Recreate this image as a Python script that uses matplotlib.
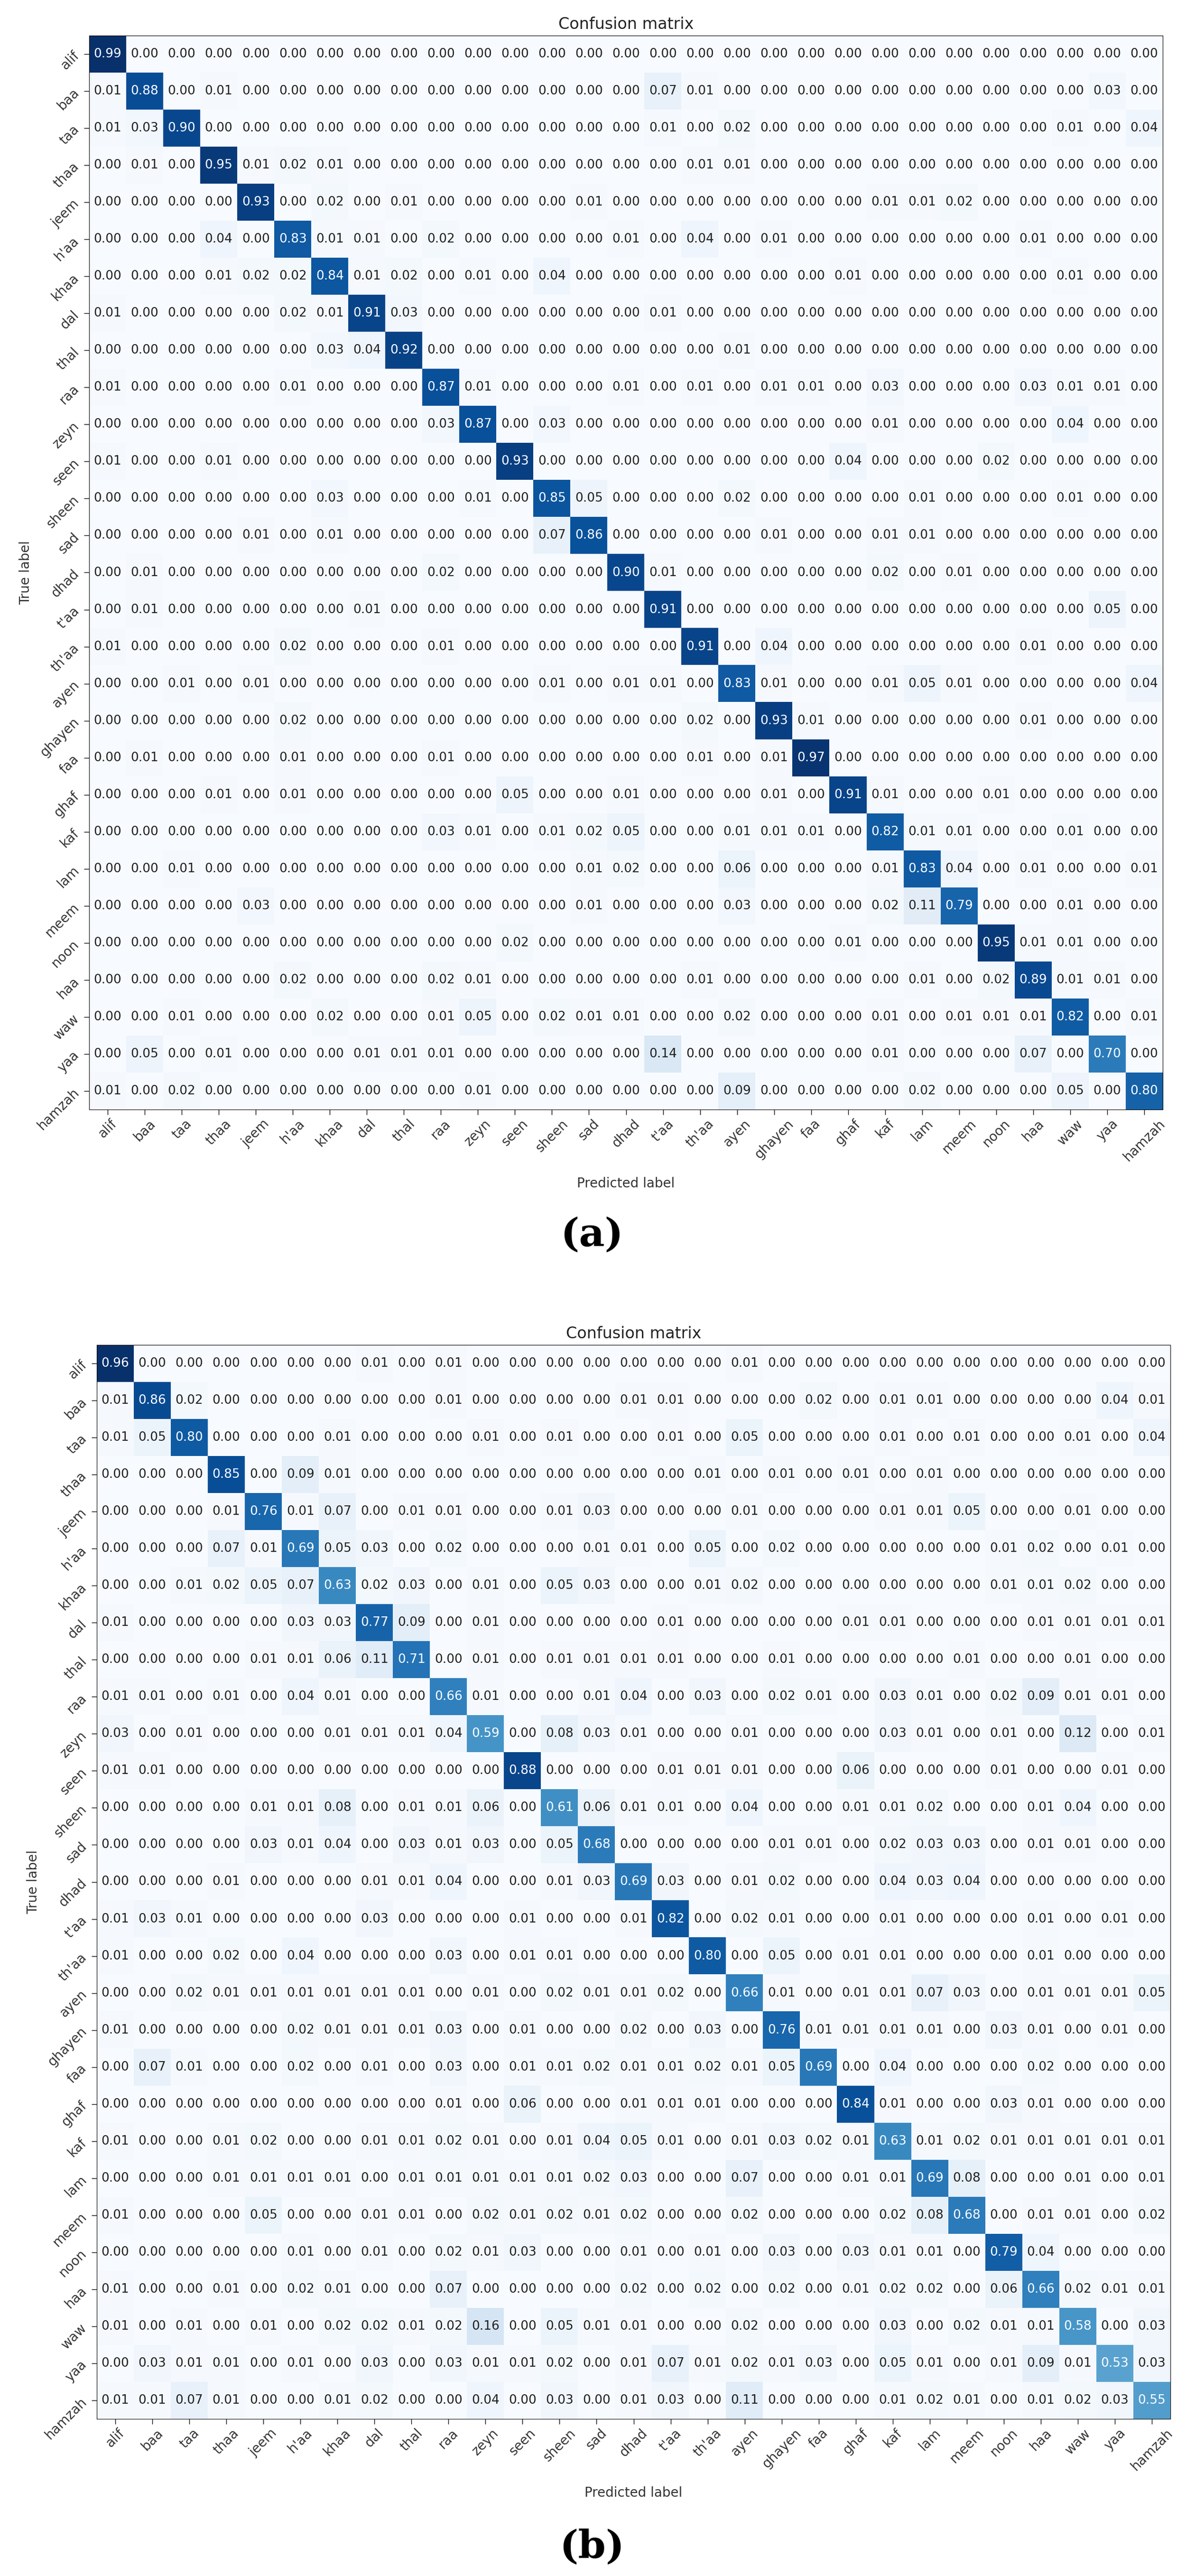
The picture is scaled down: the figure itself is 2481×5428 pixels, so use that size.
import numpy as np
import matplotlib
matplotlib.use("Agg")
import matplotlib.pyplot as plt

labels = ["alif","baa","taa","thaa","jeem","h'aa","khaa","dal","thal","raa","zeyn","seen","sheen","sad",
          "dhad","t'aa","th'aa","ayen","ghayen","faa","ghaf","kaf","lam","meem","noon","haa","waw","yaa","hamzah"]

# Matrix (a): rows as left part (cols 0-13) + right part (cols 14-28)
cm_a = [
 [0.99,0,0,0,0,0,0,0,0,0,0,0,0,0] + [0,0,0,0,0,0,0,0,0,0,0,0,0,0,0],
 [0.01,0.88,0,0.01,0,0,0,0,0,0,0,0,0,0] + [0,0.07,0.01,0,0,0,0,0,0,0,0,0,0,0.03,0],
 [0.01,0.03,0.90,0,0,0,0,0,0,0,0,0,0,0] + [0,0.01,0,0.02,0,0,0,0,0,0,0,0,0.01,0,0.04],
 [0,0.01,0,0.95,0.01,0.02,0.01,0,0,0,0,0,0,0] + [0,0,0.01,0.01,0,0,0,0,0,0,0,0,0,0,0],
 [0,0,0,0,0.93,0,0.02,0,0.01,0,0,0,0,0.01] + [0,0,0,0,0,0,0,0.01,0.01,0.02,0,0,0,0,0],
 [0,0,0,0.04,0,0.83,0.01,0.01,0,0.02,0,0,0,0] + [0.01,0,0.04,0,0.01,0,0,0,0,0,0,0.01,0,0,0],
 [0,0,0,0.01,0.02,0.02,0.84,0.01,0.02,0,0.01,0,0.04,0] + [0,0,0,0,0,0,0.01,0,0,0,0,0,0.01,0,0],
 [0.01,0,0,0,0,0.02,0.01,0.91,0.03,0,0,0,0,0] + [0,0.01,0,0,0,0,0,0,0,0,0,0,0,0,0],
 [0,0,0,0,0,0,0.03,0.04,0.92,0,0,0,0,0] + [0,0,0,0.01,0,0,0,0,0,0,0,0,0,0,0],
 [0.01,0,0,0,0,0.01,0,0,0,0.87,0.01,0,0,0] + [0.01,0,0.01,0,0.01,0.01,0,0.03,0,0,0,0.03,0.01,0.01,0],
 [0,0,0,0,0,0,0,0,0,0.03,0.87,0,0.03,0] + [0,0,0,0,0,0,0,0.01,0,0,0,0,0.04,0,0],
 [0.01,0,0,0.01,0,0,0,0,0,0,0,0.93,0,0] + [0,0,0,0,0,0,0.04,0,0,0,0.02,0,0,0,0],
 [0,0,0,0,0,0,0.03,0,0,0,0.01,0,0.85,0.05] + [0,0,0,0.02,0,0,0,0,0.01,0,0,0,0.01,0,0],
 [0,0,0,0,0.01,0,0.01,0,0,0,0,0,0.07,0.86] + [0,0,0,0,0.01,0,0,0.01,0.01,0,0,0,0,0,0],
 [0,0.01,0,0,0,0,0,0,0,0.02,0,0,0,0] + [0.90,0.01,0,0,0,0,0,0.02,0,0.01,0,0,0,0,0],
 [0,0.01,0,0,0,0,0,0.01,0,0,0,0,0,0] + [0,0.91,0,0,0,0,0,0,0,0,0,0,0,0.05,0],
 [0.01,0,0,0,0,0.02,0,0,0,0.01,0,0,0,0] + [0,0,0.91,0,0.04,0,0,0,0,0,0,0.01,0,0,0],
 [0,0,0.01,0,0.01,0,0,0,0,0,0,0,0.01,0] + [0.01,0.01,0,0.83,0.01,0,0,0.01,0.05,0.01,0,0,0,0,0.04],
 [0,0,0,0,0,0.02,0,0,0,0,0,0,0,0] + [0,0,0.02,0,0.93,0.01,0,0,0,0,0,0.01,0,0,0],
 [0,0.01,0,0,0,0.01,0,0,0,0.01,0,0,0,0] + [0,0,0.01,0,0.01,0.97,0,0,0,0,0,0,0,0,0],
 [0,0,0,0.01,0,0.01,0,0,0,0,0,0.05,0,0] + [0.01,0,0,0,0.01,0,0.91,0.01,0,0,0.01,0,0,0,0],
 [0,0,0,0,0,0,0,0,0,0.03,0.01,0,0.01,0.02] + [0.05,0,0,0.01,0.01,0.01,0,0.82,0.01,0.01,0,0,0.01,0,0],
 [0,0,0.01,0,0,0,0,0,0,0,0,0,0,0.01] + [0.02,0,0,0.06,0,0,0,0.01,0.83,0.04,0,0.01,0,0,0.01],
 [0,0,0,0,0.03,0,0,0,0,0,0,0,0,0.01] + [0,0,0,0.03,0,0,0,0.02,0.11,0.79,0,0,0.01,0,0],
 [0,0,0,0,0,0,0,0,0,0,0,0.02,0,0] + [0,0,0,0,0,0,0.01,0,0,0,0.95,0.01,0.01,0,0],
 [0,0,0,0,0,0.02,0,0,0,0.02,0.01,0,0,0] + [0,0,0.01,0,0,0,0,0,0.01,0,0.02,0.89,0.01,0.01,0],
 [0,0,0.01,0,0,0,0.02,0,0,0.01,0.05,0,0.02,0.01] + [0.01,0,0,0.02,0,0,0,0.01,0,0.01,0.01,0.01,0.82,0,0.01],
 [0,0.05,0,0.01,0,0,0,0.01,0.01,0.01,0,0,0,0] + [0,0.14,0,0,0,0,0,0.01,0,0,0,0.07,0,0.70,0],
 [0.01,0,0.02,0,0,0,0,0,0,0,0.01,0,0,0] + [0,0,0,0.09,0,0,0,0,0.02,0,0,0,0.05,0,0.80],
]

cm_b = [
 [0.96,0,0,0,0,0,0,0.01,0,0.01,0,0,0,0] + [0,0,0,0.01,0,0,0,0,0,0,0,0,0,0,0],
 [0.01,0.86,0.02,0,0,0,0,0,0,0.01,0,0,0,0] + [0.01,0.01,0,0,0,0.02,0,0.01,0.01,0,0,0,0,0.04,0.01],
 [0.01,0.05,0.80,0,0,0,0.01,0,0,0,0.01,0,0.01,0] + [0,0.01,0,0.05,0,0,0,0.01,0,0.01,0,0,0.01,0,0.04],
 [0,0,0,0.85,0,0.09,0.01,0,0,0,0,0,0,0] + [0,0,0.01,0,0.01,0,0.01,0,0.01,0,0,0,0,0,0],
 [0,0,0,0.01,0.76,0.01,0.07,0,0.01,0.01,0,0,0.01,0.03] + [0,0,0,0.01,0,0,0,0.01,0.01,0.05,0,0,0.01,0,0],
 [0,0,0,0.07,0.01,0.69,0.05,0.03,0,0.02,0,0,0,0.01] + [0.01,0,0.05,0,0.02,0,0,0,0,0,0.01,0.02,0,0.01,0],
 [0,0,0.01,0.02,0.05,0.07,0.63,0.02,0.03,0,0.01,0,0.05,0.03] + [0,0,0.01,0.02,0,0,0,0,0,0,0.01,0.01,0.02,0,0],
 [0.01,0,0,0,0,0.03,0.03,0.77,0.09,0,0.01,0,0,0] + [0,0.01,0,0,0,0,0.01,0.01,0,0,0,0.01,0.01,0.01,0.01],
 [0,0,0,0,0.01,0.01,0.06,0.11,0.71,0,0.01,0,0.01,0.01] + [0.01,0.01,0,0,0.01,0,0,0,0,0.01,0,0,0.01,0,0],
 [0.01,0.01,0,0.01,0,0.04,0.01,0,0,0.66,0.01,0,0,0.01] + [0.04,0,0.03,0,0.02,0.01,0,0.03,0.01,0,0.02,0.09,0.01,0.01,0],
 [0.03,0,0.01,0,0,0,0.01,0.01,0.01,0.04,0.59,0,0.08,0.03] + [0.01,0,0,0.01,0,0,0,0.03,0.01,0,0.01,0,0.12,0,0.01],
 [0.01,0.01,0,0,0,0,0,0,0,0,0,0.88,0,0] + [0,0.01,0.01,0.01,0,0,0.06,0,0,0,0.01,0,0,0.01,0],
 [0,0,0,0,0.01,0.01,0.08,0,0.01,0.01,0.06,0,0.61,0.06] + [0.01,0.01,0,0.04,0,0,0.01,0.01,0.02,0,0,0.01,0.04,0,0],
 [0,0,0,0,0.03,0.01,0.04,0,0.03,0.01,0.03,0,0.05,0.68] + [0,0,0,0,0.01,0.01,0,0.02,0.03,0.03,0,0.01,0.01,0,0],
 [0,0,0,0.01,0,0,0,0.01,0.01,0.04,0,0,0.01,0.03] + [0.69,0.03,0,0.01,0.02,0,0,0.04,0.03,0.04,0,0,0,0,0],
 [0.01,0.03,0.01,0,0,0,0,0.03,0,0,0,0.01,0,0] + [0.01,0.82,0,0.02,0.01,0,0,0.01,0,0,0,0.01,0,0.01,0],
 [0.01,0,0,0.02,0,0.04,0,0,0,0.03,0,0.01,0.01,0] + [0,0,0.80,0,0.05,0,0.01,0.01,0,0,0,0.01,0,0,0],
 [0,0,0.02,0.01,0.01,0.01,0.01,0.01,0.01,0,0.01,0,0.02,0.01] + [0.01,0.02,0,0.66,0.01,0,0.01,0.01,0.07,0.03,0,0.01,0.01,0.01,0.05],
 [0.01,0,0,0,0,0.02,0.01,0.01,0.01,0.03,0,0.01,0,0] + [0.02,0,0.03,0,0.76,0.01,0.01,0.01,0.01,0,0.03,0.01,0,0.01,0],
 [0,0.07,0.01,0,0,0.02,0,0.01,0,0.03,0,0.01,0.01,0.02] + [0.01,0.01,0.02,0.01,0.05,0.69,0,0.04,0,0,0,0.02,0,0,0],
 [0,0,0,0,0,0,0,0,0,0.01,0,0.06,0,0] + [0.01,0.01,0.01,0,0,0,0.84,0.01,0,0,0.03,0.01,0,0,0],
 [0.01,0,0,0.01,0.02,0,0,0.01,0.01,0.02,0.01,0,0.01,0.04] + [0.05,0.01,0,0.01,0.03,0.02,0.01,0.63,0.01,0.02,0.01,0.01,0.01,0.01,0.01],
 [0,0,0,0.01,0.01,0.01,0.01,0,0.01,0.01,0.01,0.01,0.01,0.02] + [0.03,0,0,0.07,0,0,0.01,0.01,0.69,0.08,0,0,0.01,0,0.01],
 [0.01,0,0,0,0.05,0,0,0.01,0.01,0,0.02,0.01,0.02,0.01] + [0.02,0,0,0.02,0,0,0,0.02,0.08,0.68,0,0.01,0.01,0,0.02],
 [0,0,0,0,0,0.01,0,0.01,0,0.02,0.01,0.03,0,0] + [0.01,0,0.01,0,0.03,0,0.03,0.01,0.01,0,0.79,0.04,0,0,0],
 [0.01,0,0,0.01,0,0.02,0.01,0,0,0.07,0,0,0,0] + [0.02,0,0.02,0,0.02,0,0.01,0.02,0.02,0,0.06,0.66,0.02,0.01,0.01],
 [0.01,0,0.01,0,0.01,0,0.02,0.02,0.01,0.02,0.16,0,0.05,0.01] + [0.01,0,0,0.02,0,0,0,0.03,0,0.02,0.01,0.01,0.58,0,0.03],
 [0,0.03,0.01,0.01,0,0.01,0,0.03,0,0.03,0.01,0.01,0.02,0] + [0.01,0.07,0.01,0.02,0.01,0.03,0,0.05,0.01,0,0.01,0.09,0.01,0.53,0.03],
 [0.01,0.01,0.07,0.01,0,0,0.01,0.02,0,0,0.04,0,0.03,0] + [0.01,0.03,0,0.11,0,0,0,0.01,0.02,0.01,0,0.01,0.02,0.03,0.55],
]

W, H = 2481, 5428
fig = plt.figure(figsize=(W/100, H/100), dpi=100)

def draw(cm, rect, caption, cap_y):
    cm = np.array(cm)
    ax = fig.add_axes(rect)
    ax.imshow(cm, interpolation='nearest', cmap='Blues', vmin=0, vmax=cm.max(), aspect='auto')
    ax.set_title("Confusion matrix", fontsize=24, color='#222222', pad=10)
    n = len(labels)
    ax.set_xticks(np.arange(n))
    ax.set_yticks(np.arange(n))
    ax.set_xticklabels(labels, rotation=45, fontsize=20, color='#333333')
    ax.set_yticklabels(labels, rotation=45, fontsize=20, color='#333333')
    ax.tick_params(length=8, width=1)
    thresh = cm.max() / 2.
    for i in range(n):
        for j in range(n):
            ax.text(j, i, f"{cm[i, j]:.2f}", ha='center', va='center', fontsize=19,
                    color='white' if cm[i, j] > thresh else '#222222')
    ax.set_ylabel("True label", fontsize=20, color='#333333')
    ax.set_xlabel("Predicted label", fontsize=20, color='#333333', labelpad=20)
    fig.text(0.503, cap_y, caption, ha='center', va='center', fontsize=60,
             family='DejaVu Serif', fontweight='bold')

# axes rects in figure fractions
draw(cm_a, [188/W, 1-2338/H, 2263/W, 2263/H], "(a)", 1-2603/H)
draw(cm_b, [204/W, 1-5097/H, 2263/W, 2263/H], "(b)", 1-5367/H)

fig.savefig("out.png", dpi=100)
